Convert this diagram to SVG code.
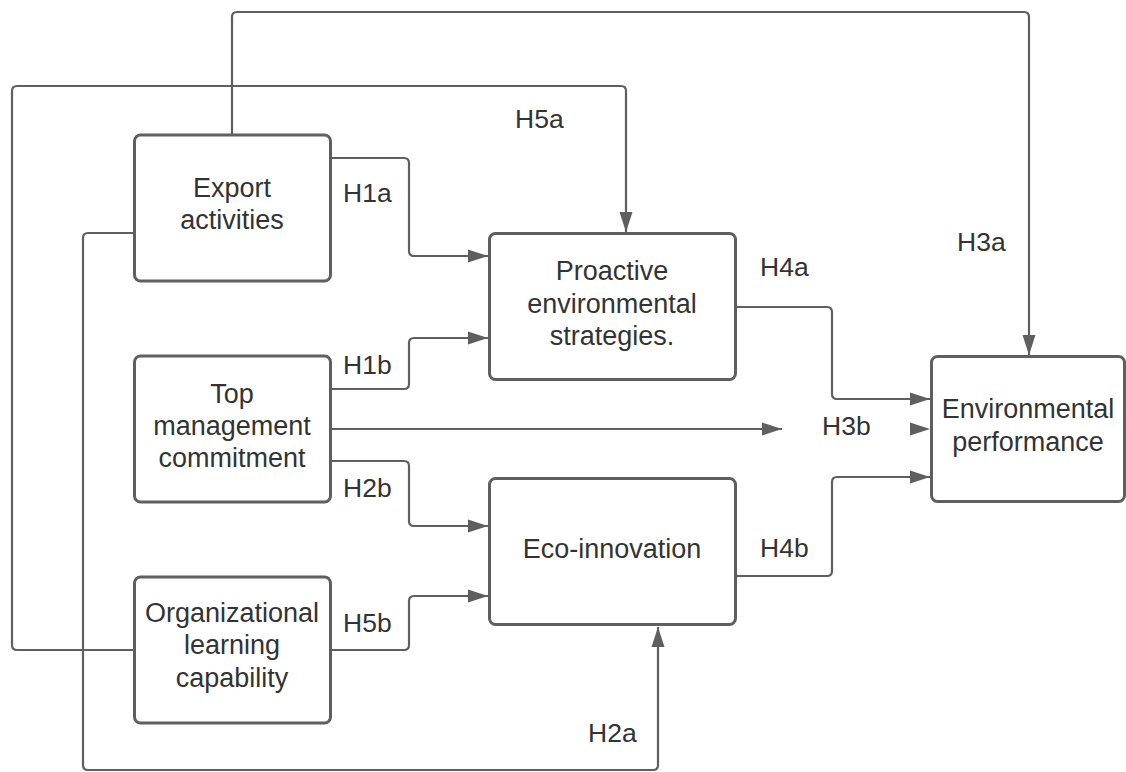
<svg xmlns="http://www.w3.org/2000/svg" width="1126" height="772" viewBox="0 0 1126 772">
<style>
.box{fill:#fff;stroke:#5f5f5f;stroke-width:3}
.t{font-family:"Liberation Sans",Arial,sans-serif;font-size:27px;fill:#333;text-anchor:middle}
.l{font-family:"Liberation Sans",Arial,sans-serif;font-size:26.5px;fill:#333}
.c{fill:none;stroke:#5f5f5f;stroke-width:2.2}
</style>
<defs>
<marker id="ah" markerUnits="userSpaceOnUse" markerWidth="20" markerHeight="14" refX="20" refY="7" orient="auto" viewBox="0 0 20 14">
<path d="M0,0.5 L20,7 L0,13.5 z" fill="#5f5f5f"/>
</marker>
</defs>
<g id="connectors">
<path class="c" d="M232,134 V17 Q232,12 237,12 H1024 Q1029,12 1029,17 V355" marker-end="url(#ah)"/>
<path class="c" d="M133,650 H17 Q12,650 12,645 V91 Q12,86 17,86 H621 Q626,86 626,91 V232" marker-end="url(#ah)"/>
<path class="c" d="M133,233 H88 Q83,233 83,238 V765 Q83,770 88,770 H653 Q658,770 658,765 V627" marker-end="url(#ah)"/>
<path class="c" d="M331,158 H404 Q409,158 409,163 V251 Q409,256 414,256 H488" marker-end="url(#ah)"/>
<path class="c" d="M331,389 H404 Q409,389 409,384 V343 Q409,338 414,338 H488" marker-end="url(#ah)"/>
<path class="c" d="M331,429 H782" marker-end="url(#ah)"/>
<path class="c" d="M331,461 H404 Q409,461 409,466 V521 Q409,526 414,526 H488" marker-end="url(#ah)"/>
<path class="c" d="M331,650 H404 Q409,650 409,645 V601 Q409,596 414,596 H488" marker-end="url(#ah)"/>
<path class="c" d="M736,307 H827 Q832,307 832,312 V394 Q832,399 837,399 H930" marker-end="url(#ah)"/>
<path class="c" d="M736,576 H827 Q832,576 832,571 V482 Q832,477 837,477 H930" marker-end="url(#ah)"/>
<polygon points="910,422.5 930,429 910,435.5" fill="#5f5f5f"/>
<text class="l" x="343" y="202">H1a</text>
<text class="l" x="343" y="374">H1b</text>
<text class="l" x="343" y="497">H2b</text>
<text class="l" x="343" y="632">H5b</text>
<text class="l" x="515" y="128">H5a</text>
<text class="l" x="760" y="276">H4a</text>
<text class="l" x="760" y="557">H4b</text>
<text class="l" x="957" y="251">H3a</text>
<text class="l" x="822" y="435">H3b</text>
<text class="l" x="588" y="742">H2a</text>
</g>
<g id="export">
<rect class="box" x="134.5" y="135" width="196" height="146" rx="6"/>
<text class="t" x="232" y="197">Export</text>
<text class="t" x="232" y="229">activities</text>
</g>
<g id="topmgmt">
<rect class="box" x="134.5" y="356" width="196" height="146" rx="6"/>
<text class="t" x="232" y="403">Top</text>
<text class="t" x="232" y="435">management</text>
<text class="t" x="232" y="467">commitment</text>
</g>
<g id="orglearning">
<rect class="box" x="134.5" y="577" width="196" height="146" rx="6"/>
<text class="t" x="232" y="622">Organizational</text>
<text class="t" x="232" y="654">learning</text>
<text class="t" x="232" y="687">capability</text>
</g>
<g id="proactive">
<rect class="box" x="489.5" y="233.5" width="246" height="146" rx="6"/>
<text class="t" x="612" y="280">Proactive</text>
<text class="t" x="612" y="313">environmental</text>
<text class="t" x="612" y="345">strategies.</text>
</g>
<g id="ecoinnovation">
<rect class="box" x="489.5" y="478.5" width="246" height="146" rx="6"/>
<text class="t" x="612" y="558">Eco-innovation</text>
</g>
<g id="envperf">
<rect class="box" x="931.5" y="356.5" width="193" height="145" rx="6"/>
<text class="t" x="1028" y="418">Environmental</text>
<text class="t" x="1028" y="451">performance</text>
</g>
</svg>
